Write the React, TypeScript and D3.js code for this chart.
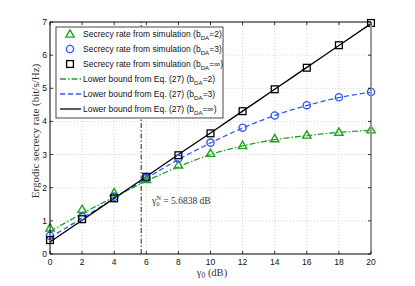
import React from "react";
import * as d3 from "d3";

const xTicks = [0, 2, 4, 6, 8, 10, 12, 14, 16, 18, 20];
const yTicks = [0, 1, 2, 3, 4, 5, 6, 7];
const snr = [0, 2, 4, 6, 8, 10, 12, 14, 16, 18, 20];

const simB2 = [0.79, 1.35, 1.85, 2.25, 2.69, 3.04, 3.28, 3.48, 3.59, 3.68, 3.75];
const simB3 = [0.55, 1.13, 1.73, 2.29, 2.88, 3.36, 3.81, 4.18, 4.49, 4.73, 4.89];
const simBInf = [0.42, 1.05, 1.68, 2.33, 2.98, 3.64, 4.31, 4.97, 5.62, 6.3, 6.97];

const lbB2 = [0.68, 1.22, 1.72, 2.2, 2.63, 3.0, 3.26, 3.45, 3.57, 3.67, 3.73];
const lbB3 = [0.5, 1.08, 1.68, 2.28, 2.85, 3.35, 3.8, 4.18, 4.48, 4.72, 4.88];
const lbBInf = [0.36, 1.02, 1.68, 2.34, 3.0, 3.65, 4.31, 4.97, 5.63, 6.29, 6.95];

const threshold = 5.6838;

const GREEN = "#22a022";
const BLUE = "#3355ff";
const BLACK = "#000";

export default function App() {
  const W = 415, H = 286;
  const x = d3.scaleLinear().domain([0, 20]).range([50, 371]);
  const y = d3.scaleLinear().domain([0, 7]).range([254, 22]);
  const line = (vals: number[]) =>
    d3.line<number>().x((_, i) => x(snr[i])).y((v) => y(v)).curve(d3.curveMonotoneX)(vals) || "";
  const tri = (cx: number, cy: number, s = 4.2) =>
    `M${cx},${cy - s}L${cx + s},${cy + s * 0.75}L${cx - s},${cy + s * 0.75}Z`;
  const sans = "'Liberation Sans', Arial, sans-serif";
  const serif = "'Liberation Serif', 'Times New Roman', serif";

  const legendItems = [
    { kind: "tri", label: "Secrecy rate from simulation (b", sub: "DA", tail: "=2)" },
    { kind: "circ", label: "Secrecy rate from simulation (b", sub: "DA", tail: "=3)" },
    { kind: "sq", label: "Secrecy rate from simulation (b", sub: "DA", tail: "=∞)" },
    { kind: "g", label: "Lower bound from Eq. (27) (b", sub: "DA", tail: "=2)" },
    { kind: "b", label: "Lower bound from Eq. (27) (b", sub: "DA", tail: "=3)" },
    { kind: "k", label: "Lower bound from Eq. (27) (b", sub: "DA", tail: "=∞)" },
  ];
  const legY = [34, 49, 64, 79, 94, 109];

  return (
    <svg width={W} height={H} style={{ position: "absolute", left: 0, top: 0, background: "#fff" }}>
      <rect x={0} y={0} width={W} height={H} fill="#fff" />
      {/* grid */}
      {xTicks.slice(1, -1).map((t) => (
        <line key={"gx" + t} x1={x(t)} x2={x(t)} y1={y(0)} y2={y(7)} stroke="#c8c8c8" strokeWidth={0.8} strokeDasharray="1,2" />
      ))}
      {yTicks.slice(1, -1).map((t) => (
        <line key={"gy" + t} x1={x(0)} x2={x(20)} y1={y(t)} y2={y(t)} stroke="#c8c8c8" strokeWidth={0.8} strokeDasharray="1,2" />
      ))}
      {/* threshold line */}
      <line x1={x(threshold)} x2={x(threshold)} y1={y(0)} y2={y(7)} stroke="#555" strokeWidth={1.3} strokeDasharray="5,2,1.5,2" />
      {/* bound lines */}
      <path d={line(lbB2)} fill="none" stroke={GREEN} strokeWidth={1.3} strokeDasharray="6,2,1.5,2" />
      <path d={line(lbB3)} fill="none" stroke={BLUE} strokeWidth={1.3} strokeDasharray="5,3" />
      <path d={line(lbBInf)} fill="none" stroke={BLACK} strokeWidth={1.3} />
      {/* markers */}
      {simB2.map((v, i) => (
        <path key={"t" + i} d={tri(x(snr[i]), y(v))} fill="none" stroke={GREEN} strokeWidth={1.4} />
      ))}
      {simB3.map((v, i) => (
        <circle key={"c" + i} cx={x(snr[i])} cy={y(v)} r={3.6} fill="none" stroke={BLUE} strokeWidth={1.4} />
      ))}
      {simBInf.map((v, i) => (
        <rect key={"s" + i} x={x(snr[i]) - 3.4} y={y(v) - 3.4} width={6.8} height={6.8} fill="none" stroke={BLACK} strokeWidth={1.3} />
      ))}
      {/* axes box */}
      <line x1={x(0)} x2={x(20)} y1={y(7)} y2={y(7)} stroke="#000" strokeWidth={1} />
      <line x1={x(0)} x2={x(20)} y1={y(0)} y2={y(0)} stroke="#000" strokeWidth={1} />
      <line x1={x(0)} x2={x(0)} y1={y(0)} y2={y(7)} stroke="#000" strokeWidth={1} />
      <line x1={x(20)} x2={x(20)} y1={y(0)} y2={y(7)} stroke="#999" strokeWidth={2} />
      {/* ticks */}
      {xTicks.map((t) => (
        <g key={"xt" + t}>
          <line x1={x(t)} x2={x(t)} y1={y(0)} y2={y(0) - 3} stroke="#000" strokeWidth={0.8} />
          <line x1={x(t)} x2={x(t)} y1={y(7)} y2={y(7) + 3} stroke="#000" strokeWidth={0.8} />
          <text x={x(t)} y={y(0) + 11} fontSize={8.5} fontFamily={sans} textAnchor="middle" fill="#111">{t}</text>
        </g>
      ))}
      {yTicks.map((t) => (
        <g key={"yt" + t}>
          <line x1={x(0)} x2={x(0) + 3} y1={y(t)} y2={y(t)} stroke="#000" strokeWidth={0.8} />
          <line x1={x(20)} x2={x(20) - 3} y1={y(t)} y2={y(t)} stroke="#000" strokeWidth={0.8} />
          <text x={x(0) - 3} y={y(t) + 3} fontSize={8.5} fontFamily={sans} textAnchor="end" fill="#111">{t}</text>
        </g>
      ))}
      {/* annotation */}
      <text x={152} y={204} fontSize={9.5} fontFamily={serif} fill="#333">
        γ<tspan fontSize={6.5} dy={2}>0</tspan><tspan fontSize={6.5} dy={-6.5} dx={-3.2}>N</tspan><tspan dy={4.5}> = 5.6838 dB</tspan>
      </text>
      {/* legend */}
      <rect x={56} y={27} width={167} height={91} fill="#fff" stroke="#333" strokeWidth={0.9} />
      {legendItems.map((it, i) => {
        const cy = legY[i];
        let sym: React.ReactNode = null;
        if (it.kind === "tri") sym = <path d={tri(70, cy)} fill="none" stroke={GREEN} strokeWidth={1.4} />;
        else if (it.kind === "circ") sym = <circle cx={70} cy={cy} r={3.6} fill="none" stroke={BLUE} strokeWidth={1.4} />;
        else if (it.kind === "sq") sym = <rect x={66.6} y={cy - 3.4} width={6.8} height={6.8} fill="none" stroke={BLACK} strokeWidth={1.3} />;
        else if (it.kind === "g") sym = <line x1={60} x2={81} y1={cy} y2={cy} stroke={GREEN} strokeWidth={1.3} strokeDasharray="6,2,1.5,2" />;
        else if (it.kind === "b") sym = <line x1={60} x2={81} y1={cy} y2={cy} stroke={BLUE} strokeWidth={1.3} strokeDasharray="5,3" />;
        else sym = <line x1={60} x2={81} y1={cy} y2={cy} stroke={BLACK} strokeWidth={1.3} />;
        return (
          <g key={"lg" + i}>
            {sym}
            <text x={83} y={cy + 3} fontSize={8.5} fontFamily={sans} fill="#111">
              {it.label}<tspan fontSize={6.2} dy={2.5}>{it.sub}</tspan><tspan dy={-2.5}>{it.tail}</tspan>
            </text>
          </g>
        );
      })}
      {/* axis labels */}
      <text x={212} y={276} fontSize={10.5} fontFamily={serif} textAnchor="middle" fill="#333">
        γ<tspan fontSize={7.5} dy={2}>0</tspan><tspan dy={-2}> (dB)</tspan>
      </text>
      <text transform={`translate(39,131) rotate(-90)`} fontSize={11} fontFamily={serif} textAnchor="middle" fill="#333">
        Ergodic secrecy rate (bit/s/Hz)
      </text>
    </svg>
  );
}
